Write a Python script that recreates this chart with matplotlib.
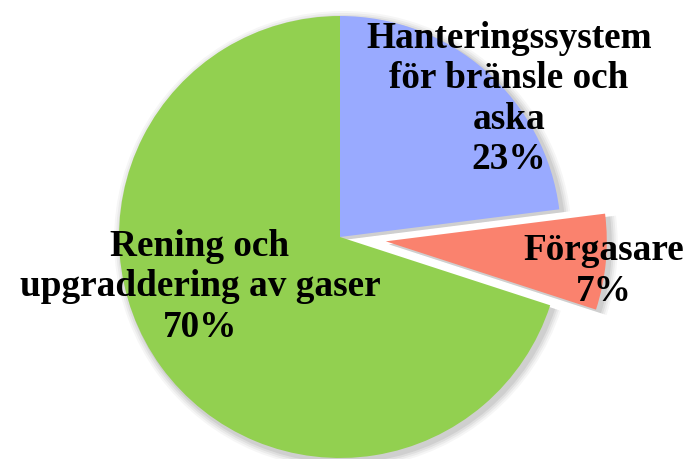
import matplotlib
matplotlib.use("Agg")
import matplotlib.pyplot as plt

labels = ["Hanteringssystem\nför bränsle och\naska", "Förgasare", "Rening och\nupgraddering av gaser"]
values = [23, 7, 70]
colors = ["#99AAFF", "#FA826E", "#92D050"]

W, H = 689, 459
cx, cy, r = 340, H - 237, 221
explode = [0, 46, 0]  # data units (pixels)

fig = plt.figure(figsize=(W / 100, H / 100), dpi=100)
ax = fig.add_axes([0, 0, 1, 1])

# soft shadow
for dr, a in [(8, 0.035), (6, 0.045), (4, 0.055), (2, 0.065)]:
    ax.pie(values, explode=explode, startangle=90, counterclock=False,
           center=(cx + 3, cy - 3), radius=r + dr, frame=True,
           colors=["#000000"] * 3, wedgeprops=dict(linewidth=0, alpha=a))

wedges, _ = ax.pie(values, explode=explode, startangle=90, counterclock=False,
                   center=(cx, cy), radius=r, frame=True, colors=colors,
                   wedgeprops=dict(linewidth=0))
ax.set_xlim(0, W)
ax.set_ylim(0, H)
ax.set_aspect("equal")
ax.axis("off")

font = dict(family=["Liberation Serif", "DejaVu Serif"], fontweight="bold", fontsize=26.8,
            ha="center", va="center", linespacing=1.2, color="black")
pos = [(509, H - 99), (604, H - 271), (200, H - 287)]
for lab, v, (x, y) in zip(labels, values, pos):
    ax.text(x, y, f"{lab}\n{v}%", **font)

fig.savefig("out.png", dpi=100)
